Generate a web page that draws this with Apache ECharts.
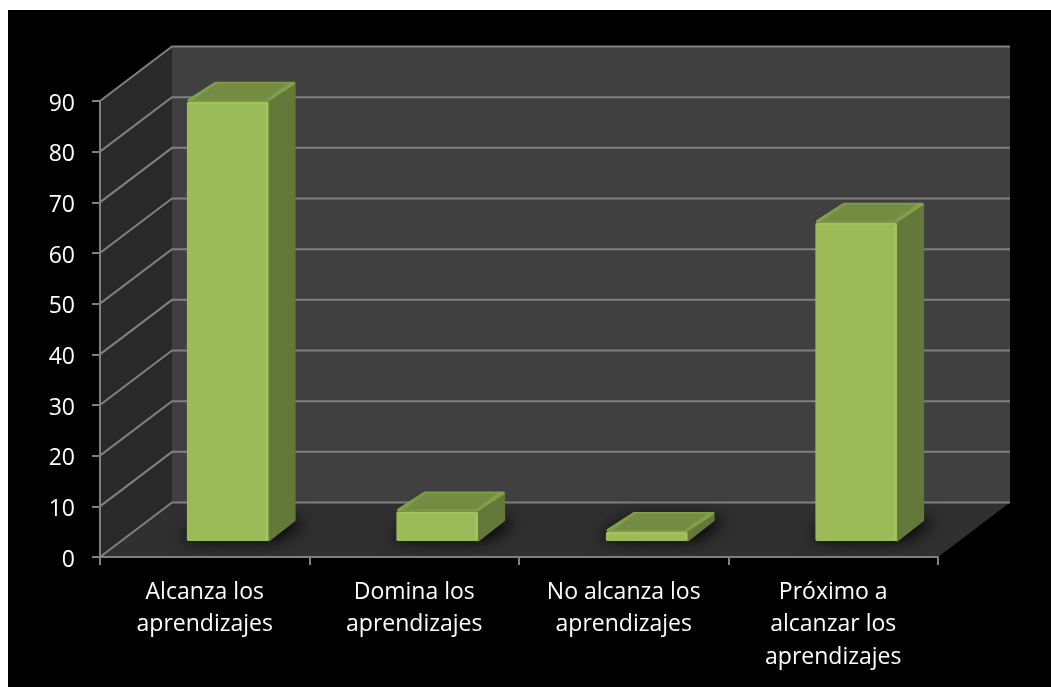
<!DOCTYPE html>
<html>
<head>
<meta charset="utf-8">
<style>
html,body{margin:0;padding:0;background:#fff;width:1051px;height:687px;overflow:hidden}
#c{position:absolute;left:8px;top:10px;width:1043px;height:677px}
</style>
<script src="https://cdn.jsdelivr.net/npm/echarts@6/dist/echarts.min.js"></script>
</head>
<body>
<div id="c"></div>
<script>
var categories = ['Alcanza los\naprendizajes', 'Domina los\naprendizajes', 'No alcanza los\naprendizajes', 'Próximo a\nalcanzar los\naprendizajes'];
var values = [86.7, 5.8, 1.8, 62.8];
var yTicks = [0, 10, 20, 30, 40, 50, 60, 70, 80, 90];

var WALL_DX = 72, WALL_DY = -54.5;
var BAR_OFF_DX = 23, BAR_OFF_DY = -16;
var BAR_DX = 27, BAR_DY = -20;
var BAR_FRACTION = 0.39;
var GRID_COLOR = '#808080';
var SHADOW_SHIFT = 3000;

function poly(points, fill, extra) {
  var style = {fill: fill};
  if (extra) for (var k in extra) style[k] = extra[k];
  return {type: 'polygon', shape: {points: points}, style: style, silent: true};
}

function renderWalls(params) {
  var g = params.coordSys;
  var l = g.x, r = g.x + g.width, t = g.y, b = g.y + g.height;
  return {type: 'group', children: [
    poly([[l + WALL_DX, t + WALL_DY], [r + WALL_DX, t + WALL_DY], [r + WALL_DX, b + WALL_DY], [l + WALL_DX, b + WALL_DY]], '#404040'),
    poly([[l, t], [l + WALL_DX, t + WALL_DY], [l + WALL_DX, b + WALL_DY], [l, b]], '#292929'),
    poly([[l, b], [r, b], [r + WALL_DX, b + WALL_DY], [l + WALL_DX, b + WALL_DY]], '#303030')
  ]};
}

function renderGridLine(params, api) {
  var g = params.coordSys;
  var y = api.coord([0, api.value(1)])[1];
  var l = g.x, r = g.x + g.width;
  return {type: 'polyline', silent: true, shape: {points: [[l, y], [l + WALL_DX, y + WALL_DY], [r + WALL_DX, y + WALL_DY]]}, style: {stroke: GRID_COLOR, lineWidth: 2, fill: 'none'}};
}

function renderBar(params, api) {
  var c = api.coord([api.value(0), api.value(1)]);
  var z = api.coord([api.value(0), 0]);
  var w = api.size([1, 0])[0] * BAR_FRACTION;
  var x0 = c[0] - w / 2 + BAR_OFF_DX, x1 = x0 + w;
  var yT = c[1] + BAR_OFF_DY, yB = z[1] + BAR_OFF_DY;
  var dx = BAR_DX, dy = BAR_DY;
  var kids = [];
  function rounded(points, fill) {
    return poly(points, fill, {stroke: fill, lineWidth: 3, lineJoin: 'round'});
  }
  // blurred floor shadow only: the casting shape sits off-canvas
  var s = SHADOW_SHIFT;
  var foot = [[x0 - 7 - s, yB - 3], [x1 + 6 - s, yB - 3], [x1 + dx + 10 - s, yB + dy], [x0 + dx - s, yB + dy]];
  kids.push(poly(foot, '#000', {shadowBlur: 20, shadowOffsetX: s, shadowColor: '#000'}));
  kids.push(poly(foot, '#000', {shadowBlur: 12, shadowOffsetX: s, shadowColor: 'rgba(0,0,0,0.6)'}));
  // side face
  kids.push(rounded([[x1, yT], [x1 + dx - 1.5, yT + dy + 1.5], [x1 + dx - 1.5, yB + dy - 1], [x1, yB - 1]], '#64783a'));
  // top face: graded bevel towards a darker centre
  kids.push(rounded([[x0 + 2, yT - 1.5], [x1 - 1, yT - 1.5], [x1 + dx - 2, yT + dy + 1.5], [x0 + dx + 1.5, yT + dy + 1.5]], '#80a04a'));
  kids.push(poly([[x0 + 5, yT - 1], [x1 - 2, yT - 1], [x1 + dx - 6, yT + dy + 1], [x0 + dx + 1, yT + dy + 1]], '#7a9646'));
  kids.push(poly([[x0 + 8, yT - 2], [x1 - 4, yT - 2], [x1 + dx - 9, yT + dy + 2], [x0 + dx + 3, yT + dy + 2]], '#748c42'));
  // front face with soft right and top bevels
  kids.push(rounded([[x0 + 1.5, yT + 1.5], [x1 - 1.5, yT + 1.5], [x1 - 1.5, yB - 1.5], [x0 + 1.5, yB - 1.5]], '#9bbb59'));
  kids.push(poly([[x1 - 3, yT + 2], [x1 - 0.5, yT + 1], [x1 - 0.5, yB - 1], [x1 - 3, yB - 1]], '#a3c65c'));
  kids.push(poly([[x0 + 1, yT + 0.5], [x1 - 1, yT + 0.5], [x1 - 3, yT + 2], [x0 + 1, yT + 2]], '#a3c65c'));
  return {type: 'group', children: kids};
}

var chart = echarts.init(document.getElementById('c'), null, {renderer: 'canvas'});
var FONT = '"Open Sans"';
chart.setOption({
  backgroundColor: '#000',
  animation: false,
  grid: {left: 92, right: 113, top: 91, bottom: 130, containLabel: false},
  xAxis: {
    type: 'category',
    data: categories,
    z: 6,
    axisLine: {show: true, lineStyle: {color: GRID_COLOR, width: 2}},
    axisTick: {show: true, alignWithLabel: false, length: 8, lineStyle: {color: GRID_COLOR, width: 2}},
    axisLabel: {color: '#fff', fontFamily: FONT, fontSize: 23, lineHeight: 32.5, margin: 19, interval: 0, hideOverlap: false},
    splitLine: {show: false}
  },
  yAxis: {
    type: 'value',
    min: 0,
    max: 90,
    interval: 10,
    z: 6,
    axisLine: {show: true, lineStyle: {color: GRID_COLOR, width: 2}},
    axisTick: {show: true, length: 8, lineStyle: {color: GRID_COLOR, width: 2}},
    axisLabel: {
      color: '#fff', fontFamily: FONT, fontSize: 23, margin: 25,
      formatter: '{n|{value}}',
      rich: {n: {color: '#fff', fontFamily: FONT, fontSize: 23, padding: [6, 0, 0, 0]}}
    },
    splitLine: {show: false}
  },
  series: [
    {type: 'custom', z: 1, silent: true, data: [[0, 0]], renderItem: renderWalls},
    {type: 'custom', z: 2, silent: true, data: yTicks.map(function (t) { return [0, t]; }), renderItem: renderGridLine},
    {type: 'custom', z: 3, silent: true, data: values.map(function (v, i) { return [i, v]; }), renderItem: renderBar}
  ]
});
</script>
</body>
</html>
